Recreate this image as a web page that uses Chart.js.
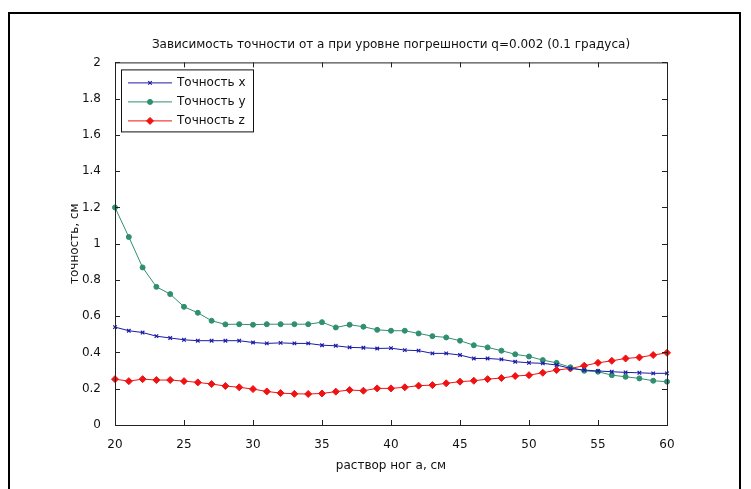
<!DOCTYPE html>
<html>
<head>
<meta charset="utf-8">
<script src="https://cdn.jsdelivr.net/npm/chart.js@4"></script>
<style>
  html, body { margin: 0; padding: 0; background: #fff; }
  #wrap { position: relative; width: 751px; height: 489px; overflow: hidden; }
  #frame { position: absolute; left: 8px; top: 12px; width: 733px; height: 600px;
           border: 2px solid #000; box-sizing: border-box; }
  canvas { position: absolute; left: 0; top: 0; }
</style>
</head>
<body>
<div id="wrap">
  <div id="frame"></div>
  <canvas id="chart" width="751" height="489"></canvas>
</div>
<script>
// данные графика
const razvor = [20, 21, 22, 23, 24, 25, 26, 27, 28, 29, 30, 31, 32, 33, 34, 35, 36, 37, 38, 39, 40,
                41, 42, 43, 44, 45, 46, 47, 48, 49, 50, 51, 52, 53, 54, 55, 56, 57, 58, 59, 60];

const tochnostX = [0.54, 0.52, 0.51, 0.49, 0.48, 0.47, 0.465, 0.465, 0.465, 0.465, 0.455,
                   0.45, 0.453, 0.45, 0.45, 0.44, 0.437, 0.428, 0.426, 0.422, 0.424,
                   0.413, 0.41, 0.395, 0.395, 0.386, 0.367, 0.367, 0.362, 0.349, 0.343,
                   0.34, 0.331, 0.312, 0.303, 0.298, 0.294, 0.29, 0.288, 0.285, 0.285];

const tochnostY = [1.20, 1.037, 0.869, 0.762, 0.722, 0.652, 0.619, 0.575, 0.555, 0.556, 0.553,
                   0.556, 0.556, 0.556, 0.556, 0.567, 0.538, 0.553, 0.542, 0.525, 0.52,
                   0.52, 0.505, 0.49, 0.483, 0.465, 0.44, 0.428, 0.41, 0.39, 0.378,
                   0.358, 0.343, 0.318, 0.299, 0.294, 0.275, 0.266, 0.257, 0.244, 0.239];

const tochnostZ = [0.253, 0.242, 0.253, 0.248, 0.248, 0.242, 0.235, 0.226, 0.215, 0.208, 0.198,
                   0.185, 0.176, 0.172, 0.171, 0.174, 0.184, 0.193, 0.189, 0.202, 0.202,
                   0.208, 0.217, 0.22, 0.23, 0.239, 0.244, 0.253, 0.259, 0.27, 0.275,
                   0.288, 0.303, 0.312, 0.327, 0.343, 0.354, 0.367, 0.373, 0.386, 0.398];

const seriesNames = ['Точность x', 'Точность y', 'Точность z'];
const xTicks = [20, 25, 30, 35, 40, 45, 50, 55, 60];
const yTicks = [0, 0.2, 0.4, 0.6, 0.8, 1, 1.2, 1.4, 1.6, 1.8, 2];

const FONT = '"DejaVu Sans", sans-serif';
const TXT = '#111';

function toPoints(vals) {
  return razvor.map((x, i) => ({ x: x, y: vals[i] }));
}

// рамка осей + засечки внутрь (как в matlab)
const boxTicks = {
  id: 'boxTicks',
  afterDraw(chart) {
    const { ctx, chartArea: a, scales } = chart;
    ctx.save();
    ctx.strokeStyle = '#222';
    ctx.lineWidth = 1;
    ctx.strokeRect(a.left + 0.5, a.top + 0.5, a.right - a.left, a.bottom - a.top);
    const L = 5;
    ctx.beginPath();
    xTicks.forEach(v => {
      const px = Math.round(scales.x.getPixelForValue(v)) + 0.5;
      ctx.moveTo(px, a.bottom); ctx.lineTo(px, a.bottom - L);
      ctx.moveTo(px, a.top); ctx.lineTo(px, a.top + L);
    });
    yTicks.forEach(v => {
      const py = Math.round(scales.y.getPixelForValue(v)) + 0.5;
      ctx.moveTo(a.left, py); ctx.lineTo(a.left + L, py);
      ctx.moveTo(a.right, py); ctx.lineTo(a.right - L, py);
    });
    ctx.stroke();
    ctx.restore();
  }
};

// легенда в рамке внутри области графика
const boxLegend = {
  id: 'boxLegend',
  afterDraw(chart) {
    const { ctx, chartArea: a } = chart;
    const x0 = a.left + 6, y0 = a.top + 7, w = 132, rowH = 19;
    const sets = chart.data.datasets;
    ctx.save();
    ctx.fillStyle = '#fff';
    ctx.fillRect(x0, y0, w, rowH * sets.length + 5);
    ctx.strokeStyle = '#111';
    ctx.lineWidth = 1;
    ctx.strokeRect(x0 + 0.5, y0 + 0.5, w, rowH * sets.length + 5);
    ctx.font = '12px ' + FONT;
    ctx.textBaseline = 'middle';
    sets.forEach((ds, i) => {
      const cy = y0 + 13 + i * rowH;
      ctx.strokeStyle = ds.borderColor;
      ctx.lineWidth = 1;
      ctx.beginPath();
      ctx.moveTo(x0 + 7, cy + 0.5); ctx.lineTo(x0 + 51, cy + 0.5);
      ctx.stroke();
      ctx.fillStyle = ds.pointBackgroundColor;
      ctx.strokeStyle = ds.pointBorderColor;
      ctx.lineWidth = ds.pointBorderWidth;
      Chart.helpers.drawPoint(ctx, { pointStyle: ds.pointStyle, radius: ds.pointRadius, rotation: 0,
                                     borderWidth: ds.pointBorderWidth }, x0 + 29, cy + 0.5);
      ctx.fillStyle = TXT;
      ctx.fillText(ds.label, x0 + 56, cy);
    });
    ctx.restore();
  }
};

const ctx = document.getElementById('chart').getContext('2d');
new Chart(ctx, {
  type: 'line',
  data: {
    datasets: [
      {
        label: seriesNames[0], data: toPoints(tochnostX),
        borderColor: '#1b1ba6', borderWidth: 1,
        pointStyle: 'crossRot', pointRadius: 2.5, pointBorderWidth: 1.2,
        pointBorderColor: '#1b1ba6', pointBackgroundColor: '#1b1ba6',
        clip: false
      },
      {
        label: seriesNames[1], data: toPoints(tochnostY),
        borderColor: '#2f8f6e', borderWidth: 1,
        pointStyle: 'circle', pointRadius: 2.5, pointBorderWidth: 1,
        pointBorderColor: '#2f8f6e', pointBackgroundColor: '#2f8f6e',
        clip: false
      },
      {
        label: seriesNames[2], data: toPoints(tochnostZ),
        borderColor: '#f01212', borderWidth: 1,
        pointStyle: 'rectRot', pointRadius: 3.5, pointBorderWidth: 1,
        pointBorderColor: '#f01212', pointBackgroundColor: '#f01212',
        clip: false
      }
    ]
  },
  options: {
    responsive: false,
    animation: false,
    devicePixelRatio: 1,
    layout: { padding: { left: 0, right: 84, top: 0, bottom: 0 } },
    elements: { line: { tension: 0 } },
    plugins: {
      legend: { display: false },
      tooltip: { enabled: false },
      title: {
        display: true,
        fullSize: false, // центр над осями, как в matlab
        text: 'Зависимость точности от а при уровне погрешности q=0.002 (0.1 градуса)',
        color: TXT,
        font: { family: FONT, size: 12, weight: 'normal' },
        padding: { top: 38, bottom: 10 }
      }
    },
    scales: {
      x: {
        type: 'linear', min: 20, max: 60,
        afterFit: s => { s.height = 64; },
        afterBuildTicks: s => { s.ticks = xTicks.map(v => ({ value: v })); },
        grid: { display: false },
        border: { display: false },
        ticks: { color: TXT, padding: 5, font: { family: FONT, size: 12 }, maxRotation: 0 },
        title: { display: true, text: 'раствор ног а, см', color: TXT,
                 font: { family: FONT, size: 12 }, padding: { top: 0, bottom: 16 } }
      },
      y: {
        type: 'linear', min: 0, max: 2,
        afterFit: s => { s.width = 115; },
        afterBuildTicks: s => { s.ticks = yTicks.map(v => ({ value: v })); },
        grid: { display: false },
        border: { display: false },
        ticks: { color: TXT, padding: 6, font: { family: FONT, size: 12 },
                 callback: v => String(+v.toFixed(1)) },
        title: { display: true, text: 'точность, см', color: TXT,
                 font: { family: FONT, size: 12 }, padding: { top: 68, bottom: 0 } }
      }
    }
  },
  plugins: [boxTicks, boxLegend]
});
</script>
</body>
</html>
